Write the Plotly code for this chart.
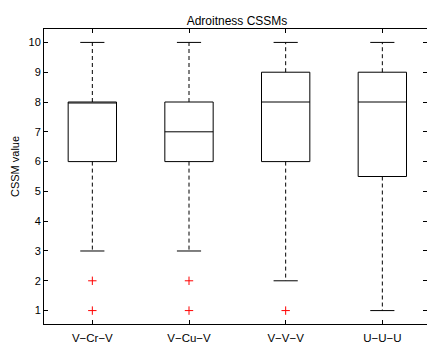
import plotly.graph_objects as go

# boxplot summary per configuration
categories = ["V\u2212Cr\u2212V", "V\u2212Cu\u2212V", "V\u2212V\u2212V", "U\u2212U\u2212U"]
q1 = [6, 6, 6, 5.5]
median = [8, 7, 8, 8]
q3 = [8, 8, 9, 9]
lower_whisker = [3, 3, 2, 1]
upper_whisker = [10, 10, 10, 10]
outliers = [[2, 1], [2, 1], [1], []]
y_ticks = [1, 2, 3, 4, 5, 6, 7, 8, 9, 10]

positions = list(range(1, len(categories) + 1))
BOX_W = 0.5
CAP_W = 0.25
FAMILY = "Liberation Sans, Arial, sans-serif"
FONT = dict(family=FAMILY, size=11, color="black")

fig = go.Figure()

# boxes + median via the library's box trace (whiskers drawn separately, dashed)
fig.add_trace(go.Box(
    x=positions,
    q1=q1, median=median, q3=q3,
    lowerfence=q1, upperfence=q3,
    width=BOX_W,
    fillcolor="white",
    line=dict(color="black", width=1),
    whiskerwidth=0,
    boxpoints=False,
    hoverinfo="skip",
    showlegend=False,
))

for p, lo, hi, a, b in zip(positions, lower_whisker, upper_whisker, q1, q3):
    # dashed whiskers
    fig.add_trace(go.Scatter(
        x=[p, p, None, p, p], y=[b, hi, None, a, lo],
        mode="lines", line=dict(color="black", width=1, dash="4px,3px"),
        hoverinfo="skip", showlegend=False,
    ))
    # whisker caps
    fig.add_trace(go.Scatter(
        x=[p - CAP_W / 2, p + CAP_W / 2, None, p - CAP_W / 2, p + CAP_W / 2],
        y=[hi, hi, None, lo, lo],
        mode="lines", line=dict(color="black", width=1),
        hoverinfo="skip", showlegend=False,
    ))

# outliers as red plus signs
ox, oy = [], []
for p, vals in zip(positions, outliers):
    ox += [p] * len(vals)
    oy += vals
fig.add_trace(go.Scatter(
    x=ox, y=oy, mode="markers",
    marker=dict(symbol="cross-thin", size=6, line=dict(color="red", width=1)),
    hoverinfo="skip", showlegend=False,
))

fig.update_layout(
    width=427, height=346,
    margin=dict(l=44, r=0, t=29, b=22),
    plot_bgcolor="white", paper_bgcolor="white",
    font=FONT,
    title=dict(text="Adroitness CSSMs", x=(44 + 430) / 2 / 427, xanchor="center",
               xref="container", yref="container", y=1 - 21 / 346, yanchor="middle",
               font=dict(family=FAMILY, size=12, color="black")),
    annotations=[dict(text="CSSM value", textangle=-90, xref="paper", yref="paper",
                      x=-29 / 383, y=0.532, xanchor="center", yanchor="middle",
                      showarrow=False, font=FONT)],
)

fig.update_xaxes(
    range=[0.5, 4.462], tickvals=positions, ticktext=categories,
    tickfont=dict(family=FAMILY, size=11.5, color="black"), ticklabelstandoff=3,
    ticks="inside", ticklen=4, tickcolor="black", automargin=False,
    showline=True, linecolor="black", linewidth=1, mirror="ticks",
    showgrid=False, zeroline=False,
)
fig.update_yaxes(
    range=[0.55, 10.45], tickvals=y_ticks, automargin=False,
    ticks="inside", ticklen=4, tickcolor="black",
    showline=True, linecolor="black", linewidth=1, mirror="ticks",
    showgrid=False, zeroline=False,
)

# drop the browser's default page margin so the figure sits at the top-left corner
fig.write_html("out.html", config={"displayModeBar": False},
               post_script="document.body.style.margin='0';")
